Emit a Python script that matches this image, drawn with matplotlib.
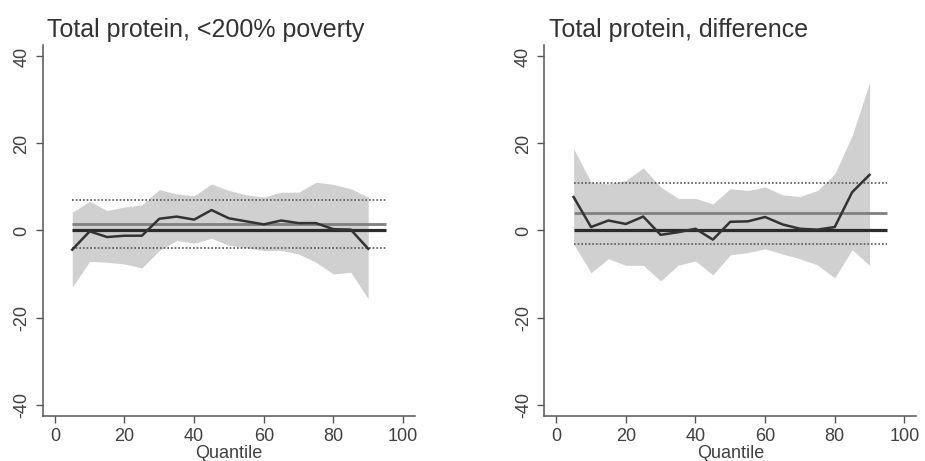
import matplotlib
matplotlib.use("Agg")
import matplotlib.pyplot as plt
import numpy as np

plt.rcParams['font.family'] = ['Liberation Sans', 'DejaVu Sans']

quantiles = [5, 10, 15, 20, 25, 30, 35, 40, 45, 50, 55, 60, 65, 70, 75, 80, 85, 90]

left_est = [-4.4, -0.2, -1.5, -1.2, -1.2, 2.7, 3.2, 2.5, 4.7, 2.8, 2.1, 1.4, 2.3, 1.7, 1.7, 0.3, 0.2, -4.2]
left_hi = [4.2, 6.7, 4.6, 5.4, 5.9, 9.4, 8.4, 8.0, 10.7, 9.2, 8.2, 7.7, 8.8, 8.8, 11.1, 10.6, 9.6, 7.7]
left_lo = [-13.0, -7.1, -7.3, -7.7, -8.6, -4.6, -2.3, -2.9, -1.8, -3.4, -4.0, -4.6, -4.6, -5.4, -7.3, -10.0, -9.6, -15.7]
left_mean = 1.5
left_mean_hi = 6.9
left_mean_lo = -4.0

right_est = [7.7, 0.8, 2.3, 1.5, 3.2, -1.0, -0.4, 0.4, -2.1, 2.0, 2.1, 3.1, 1.4, 0.4, 0.2, 0.8, 8.8, 12.8]
right_hi = [18.8, 11.1, 10.7, 11.5, 14.4, 10.0, 7.4, 7.4, 6.1, 9.6, 9.2, 10.0, 8.2, 7.8, 9.2, 13.0, 21.8, 34.0]
right_lo = [-3.1, -9.7, -6.5, -8.0, -8.0, -11.6, -8.0, -7.0, -10.2, -5.6, -5.1, -4.2, -5.4, -6.5, -7.9, -10.9, -4.4, -8.0]
right_mean = 4.1
right_mean_hi = 11.0
right_mean_lo = -3.1

titles = ["Total protein, <200% poverty", "Total protein, difference"]
xticks = [0, 20, 40, 60, 80, 100]
yticks = [-40, -20, 0, 20, 40]
line_span = [5, 95]

fig = plt.figure(figsize=(9.25, 4.61), dpi=100)
positions = [[0.0465, 0.098, 0.402, 0.804], [0.5885, 0.098, 0.402, 0.804]]
panels = [
    (left_est, left_hi, left_lo, left_mean, left_mean_hi, left_mean_lo),
    (right_est, right_hi, right_lo, right_mean, right_mean_hi, right_mean_lo),
]
for pos, title, (est, hi, lo, m, mhi, mlo) in zip(positions, titles, panels):
    ax = fig.add_axes(pos)
    ax.fill_between(quantiles, lo, hi, color='#d0d0d0', linewidth=0, zorder=1)
    ax.plot(line_span, [0, 0], color='#2b2b2b', lw=2.3, zorder=3, solid_capstyle='butt')
    ax.plot(line_span, [m, m], color='#808080', lw=2.0, zorder=3, solid_capstyle='butt')
    ax.plot(line_span, [mhi, mhi], color='#555555', lw=1.2, ls=(0, (1, 1.2)), zorder=3)
    ax.plot(line_span, [mlo, mlo], color='#555555', lw=1.2, ls=(0, (1, 1.2)), zorder=3)
    ax.plot(quantiles, est, color='#333333', lw=1.8, zorder=4)
    ax.set_xlim(-3.4, 103.4)
    ax.set_ylim(-42.6, 42.6)
    ax.set_xticks(xticks)
    ax.set_yticks(yticks)
    ax.set_xticklabels([str(t) for t in xticks], fontsize=13, color='#404040')
    ax.set_yticklabels([str(t) for t in yticks], fontsize=13, color='#404040',
                       rotation=90, va='center')
    ax.tick_params(axis='both', direction='out', length=5, width=1, color='#555555', pad=4)
    for s in ['top', 'right']:
        ax.spines[s].set_visible(False)
    for s in ['left', 'bottom']:
        ax.spines[s].set_color('#555555')
        ax.spines[s].set_linewidth(1.1)
    ax.set_xlabel("Quantile", fontsize=13, color='#404040', labelpad=0)
    ax.set_title(title, fontsize=18, color='#333333', loc='left', x=0.012, pad=6)

fig.savefig("out.png", dpi=100)
